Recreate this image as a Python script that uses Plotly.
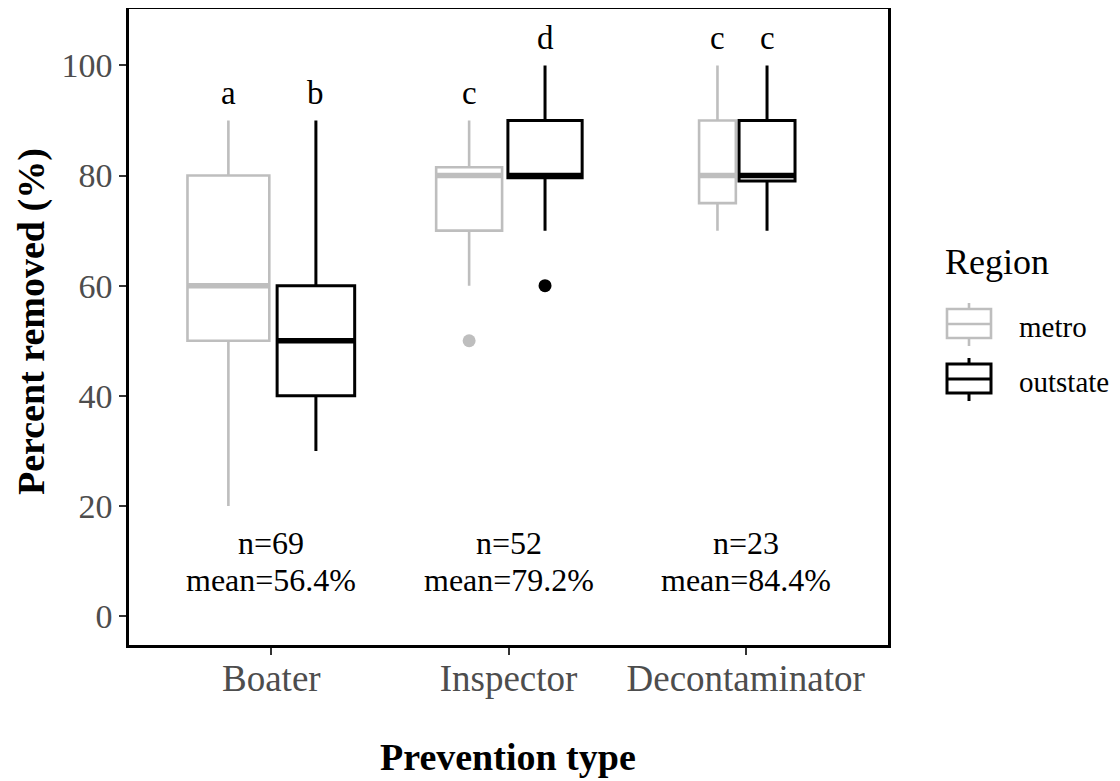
import plotly.graph_objects as go

# ---- data ----
categories = ["Boater", "Inspector", "Decontaminator"]
regions = ["metro", "outstate"]

# box statistics per region, ordered as categories
lower = {"metro": [20, 60, 70], "outstate": [30, 70, 70]}
q1 = {"metro": [50, 70, 75], "outstate": [40, 79.6, 79]}
median = {"metro": [60, 80, 80], "outstate": [50, 80, 80]}
q3 = {"metro": [80, 81.5, 90], "outstate": [60, 90, 90]}
upper = {"metro": [90, 90, 100], "outstate": [90, 100, 100]}

# outliers: (category index, value)
outliers = {"metro": [(1, 50)], "outstate": [(1, 60)]}

letters = {"metro": ["a", "c", "c"], "outstate": ["b", "d", "c"]}
n_obs = [69, 52, 23]
means = [56.4, 79.2, 84.4]

# ---- style ----
colors = {"metro": "#BEBEBE", "outstate": "#000000"}
linew = {"metro": 2.6, "outstate": 3.0}
# dodge offsets and widths (varwidth) in category units
offsets = {"metro": [-0.181, -0.166, -0.119], "outstate": [0.188, 0.154, 0.090]}
widths = {"metro": [0.345, 0.278, 0.155], "outstate": [0.327, 0.313, 0.236]}
FONT = "Liberation Serif, Times New Roman, serif"
N_LABEL_Y, MEAN_LABEL_Y = 13.2, 6.5

# page body has an 8px margin; figure size compensates
OFF = 8
W, H = 1120 - OFF, 781 - OFF
PL, PR, PT, PB = 129, 888, 9, 645  # plot area in page pixels


def px_x(p):
    return (p - PL) / (PR - PL)


def px_y(p):
    return (PB - p) / (PB - PT)


fig = go.Figure()
for r in regions:
    for i, cat in enumerate(categories):
        xc = (i + 1) + offsets[r][i]
        w = widths[r][i]
        fig.add_trace(go.Box(
            x=[xc], q1=[q1[r][i]], median=[median[r][i]], q3=[q3[r][i]],
            lowerfence=[lower[r][i]], upperfence=[upper[r][i]],
            width=w, whiskerwidth=0, boxpoints=False,
            fillcolor="white", line=dict(color=colors[r], width=linew[r]),
            name=r, showlegend=False,
        ))
        # thick median
        fig.add_trace(go.Scatter(
            x=[xc - w / 2, xc + w / 2], y=[median[r][i]] * 2, mode="lines",
            line=dict(color=colors[r], width=5.5), showlegend=False,
            hoverinfo="skip",
        ))
        # letter
        fig.add_annotation(x=xc, y=upper[r][i] + 5, text=letters[r][i],
                           showarrow=False, yanchor="middle",
                           font=dict(family=FONT, size=33, color="black"))
    for (ci, val) in outliers[r]:
        fig.add_trace(go.Scatter(
            x=[(ci + 1) + offsets[r][ci]], y=[val], mode="markers",
            marker=dict(color=colors[r], size=13), showlegend=False,
        ))

for i, cat in enumerate(categories):
    fig.add_annotation(x=i + 1, y=N_LABEL_Y, text=f"n={n_obs[i]}",
                       showarrow=False, yanchor="middle", borderpad=0,
                       font=dict(family=FONT, size=32, color="black"))
    fig.add_annotation(x=i + 1, y=MEAN_LABEL_Y, text=f"mean={means[i]}%",
                       showarrow=False, yanchor="middle", borderpad=0,
                       font=dict(family=FONT, size=32, color="black"))

# axis titles
fig.add_annotation(xref="paper", yref="paper", x=px_x(508), y=px_y(757),
                   text="<b>Prevention type</b>", showarrow=False,
                   xanchor="center", yanchor="middle",
                   font=dict(family=FONT, size=38, color="black"))
fig.add_annotation(xref="paper", yref="paper", x=px_x(32), y=px_y(322),
                   text="<b>Percent removed (%)</b>", showarrow=False, textangle=-90,
                   xanchor="center", yanchor="middle",
                   font=dict(family=FONT, size=38, color="black"))

# legend (drawn manually to mimic ggplot keys)
fig.add_annotation(xref="paper", yref="paper", x=px_x(943), y=px_y(262),
                   text="Region", showarrow=False, xanchor="left", yanchor="middle",
                   font=dict(family=FONT, size=36, color="black"))
key_tops = {"metro": 303, "outstate": 358}
for r in regions:
    t = key_tops[r]
    c = colors[r]
    lw = linew[r]
    fig.add_shape(type="line", xref="paper", yref="paper",
                  x0=px_x(969), x1=px_x(969), y0=px_y(t), y1=px_y(t + 43),
                  line=dict(color=c, width=lw))
    fig.add_shape(type="rect", xref="paper", yref="paper",
                  x0=px_x(947), x1=px_x(991), y0=px_y(t + 6), y1=px_y(t + 35),
                  fillcolor="white", line=dict(color=c, width=lw))
    fig.add_shape(type="line", xref="paper", yref="paper",
                  x0=px_x(947), x1=px_x(991), y0=px_y(t + 21), y1=px_y(t + 21),
                  line=dict(color=c, width=lw))
    fig.add_annotation(xref="paper", yref="paper", x=px_x(1017), y=px_y(t + 24),
                       text=r, showarrow=False, xanchor="left", yanchor="middle",
                       font=dict(family=FONT, size=29, color="black"))

fig.update_layout(
    width=W, height=H,
    margin=dict(l=PL - OFF, r=W - (PR - OFF), t=PT - OFF, b=H - (PB - OFF)),
    plot_bgcolor="white", paper_bgcolor="white",
    font=dict(family=FONT, color="black"),
    showlegend=False,
)
fig.update_xaxes(
    range=[0.4, 3.6], tickvals=[1, 2, 3], ticktext=categories,
    showline=True, linecolor="black", linewidth=2.5, mirror=True,
    showgrid=False, zeroline=False, automargin=False,
    ticks="outside", ticklen=7, tickwidth=1.5, tickcolor="#333333",
    ticklabelstandoff=-8,
    tickfont=dict(family=FONT, size=37, color="#4D4D4D"),
)
fig.update_yaxes(
    range=[-5.25, 110.25], tickvals=[0, 20, 40, 60, 80, 100],
    showline=True, linecolor="black", linewidth=2.5, mirror=True,
    showgrid=False, zeroline=False, automargin=False,
    ticks="outside", ticklen=7, tickwidth=1.5, tickcolor="#333333",
    tickfont=dict(family=FONT, size=34, color="#4D4D4D"),
)

fig.write_html("out.html")
